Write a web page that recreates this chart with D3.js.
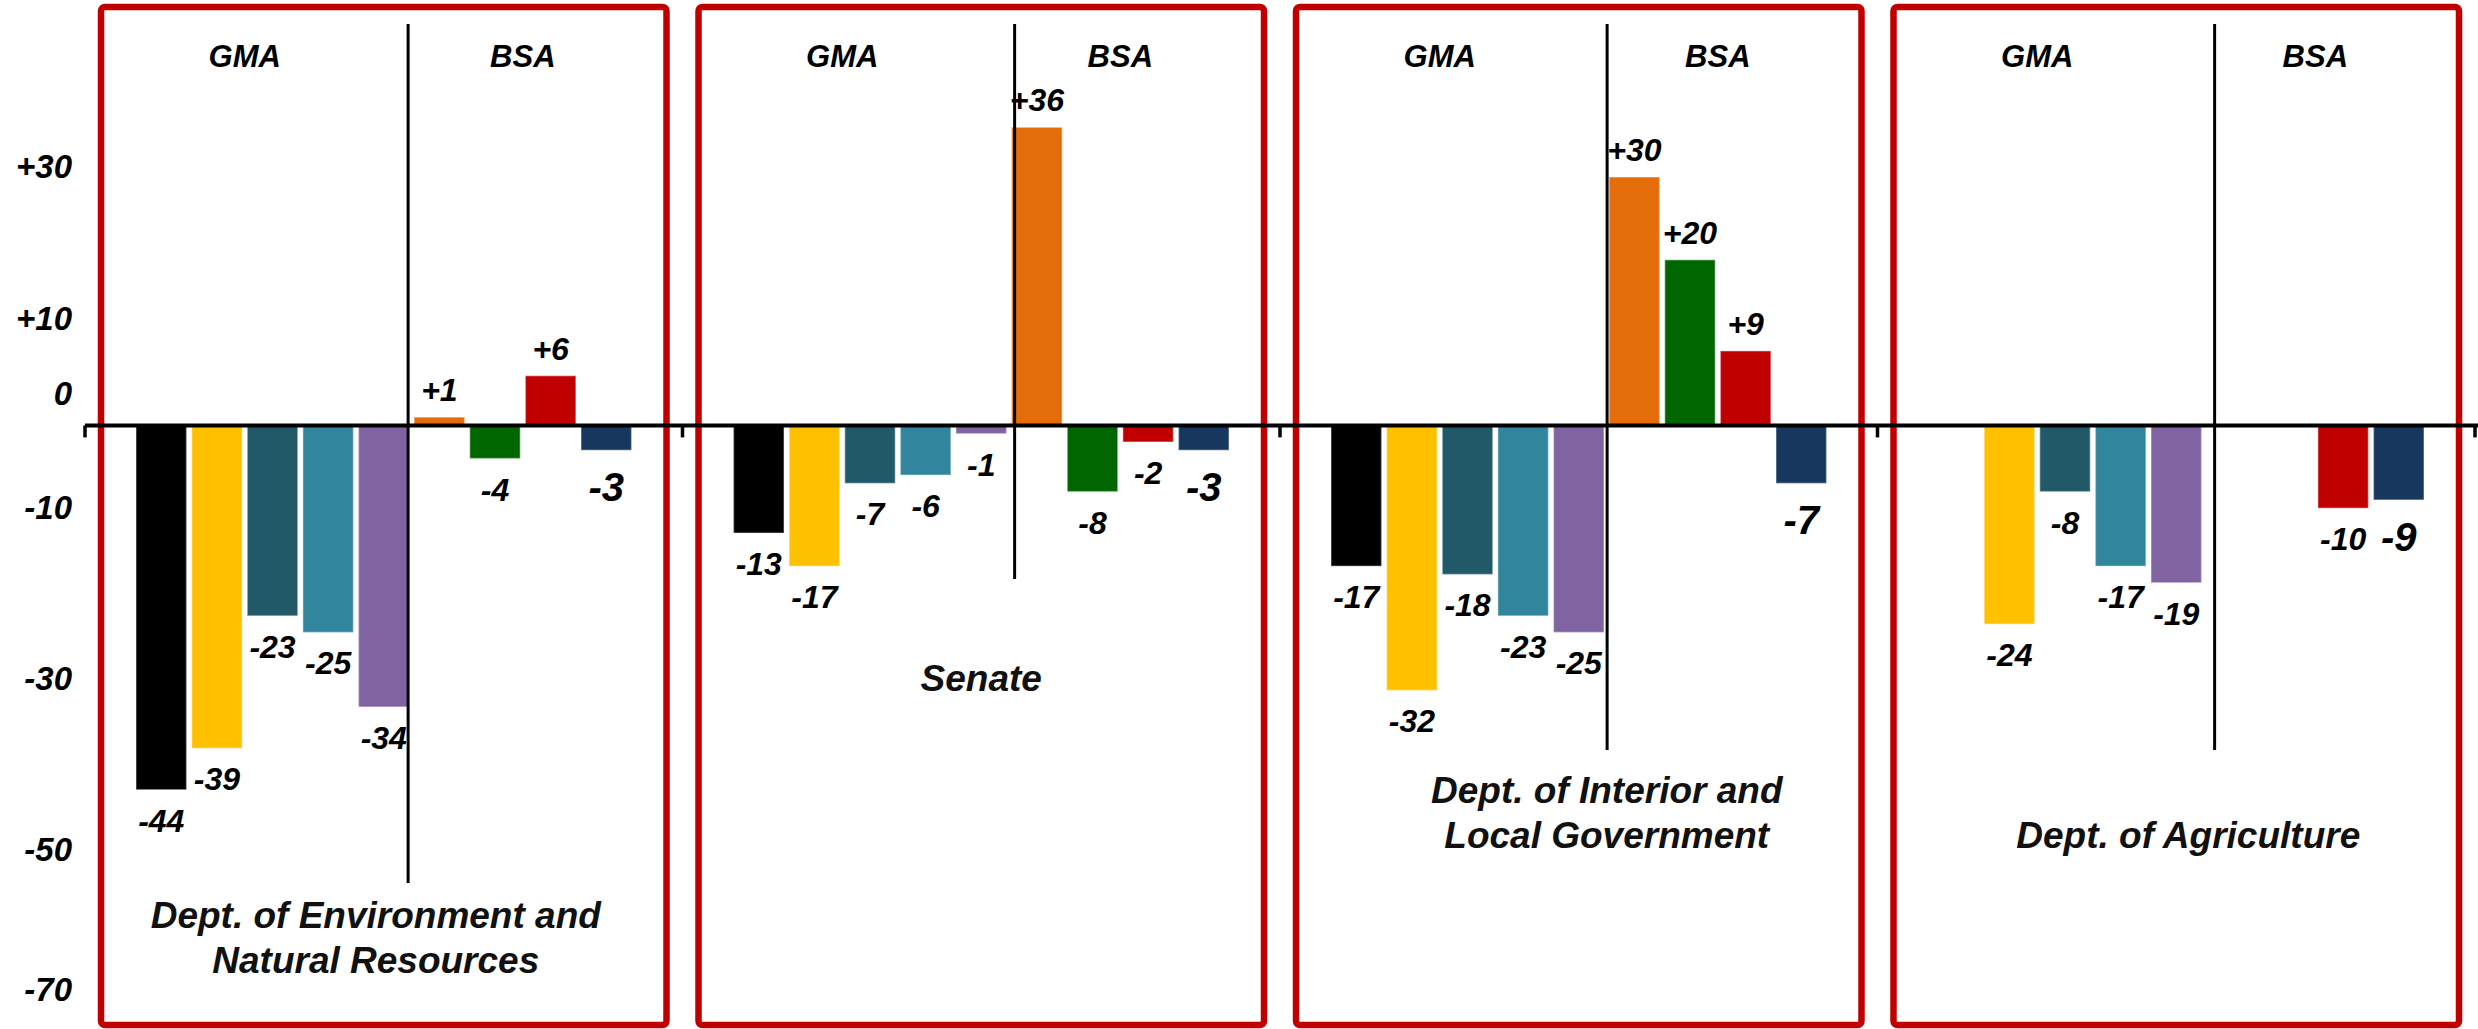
<!DOCTYPE html>
<html>
<head>
<meta charset="utf-8">
<script src="https://cdn.jsdelivr.net/npm/d3@7"></script>
<style>
	body { margin: 0; background: #fff; }
	svg { display: block; }
	text { font-family: 'Liberation Sans', Arial, sans-serif; font-weight: bold; font-style: italic; }
</style>
</head>
<body>
<script>
// Data
const panels = ['DENR', 'Senate', 'DILG', 'Agriculture']
const panelTitles = [
	['Dept. of Environment and', 'Natural Resources'],
	['Senate'],
	['Dept. of Interior and', 'Local Government'],
	['Dept. of Agriculture']
]
const sides = ['GMA', 'BSA']
const series = ['gma1', 'gma2', 'gma3', 'gma4', 'gma5', 'bsa1', 'bsa2', 'bsa3', 'bsa4']
const denr = [-44, -39, -23, -25, -34, 1, -4, 6, -3]
const senate = [-13, -17, -7, -6, -1, 36, -8, -2, -3]
const dilg = [-17, -32, -18, -23, -25, 30, 20, 9, -7]
const agri = [null, -24, -8, -17, -19, null, null, -10, -9]
const values = [denr, senate, dilg, agri]
const yTicks = [30, 10, 0, -10, -30, -50, -70]

// Styles
const colors = ['#000000', '#FFC000', '#215968', '#31859C', '#8064A2', '#E46C0A', '#006600', '#C00000', '#17375E']
const red = '#C00000'

// Layout
const width = 2478
const height = 1029
const titleBaseline = [973, 691, 848, 848] // baseline of the last title line
const titleShift = [-8, 0, 28, 12]
const dividerEnd = [883, 579, 750, 750]
const dividerShift = [-6, 3, -2, 8]
const tickShift = new Map([[30, -10], [10, -24], [0, -31], [-10, 0], [-30, 5], [-50, 11], [-70, -15]])

const svg = d3
	.select('body')
	.append('svg')
	.attr('width', width)
	.attr('height', height)

// Scales
const x = d3.scaleBand().domain(panels).range([85, 2475])
const xs = d3.scaleBand().domain(series).range([0, x.bandwidth()]).paddingInner(0.092).paddingOuter(0.917)
const y = d3.scaleLinear().domain([-70, 30]).range([1005, 177])

const fmt = v => (v > 0 ? '+' + v : String(v))

// one group per panel
const panel = svg
	.selectAll('g.panel')
	.data(panels)
	.join('g')
	.attr('class', 'panel')
	.attr('transform', d => `translate(${x(d)},0)`)

const bars = (d, i) =>
	series.map((s, j) => ({ s, j, v: values[i][j] })).filter(b => b.v !== null)

panel
	.selectAll('rect.bar')
	.data(bars)
	.join('rect')
	.attr('class', 'bar')
	.attr('x', d => xs(d.s))
	.attr('width', xs.bandwidth())
	.attr('y', d => y(Math.max(0, d.v)))
	.attr('height', d => Math.abs(y(d.v) - y(0)))
	.attr('fill', d => colors[d.j])
	.attr('stroke', '#fff')
	.attr('stroke-opacity', 0.35)
	.attr('stroke-width', 1.5)

// value labels, the last series gets a bigger one
panel
	.selectAll('text.value')
	.data(bars)
	.join('text')
	.attr('class', 'value')
	.attr('text-anchor', 'middle')
	.attr('x', d => xs(d.s) + xs.bandwidth() / 2)
	.attr('y', d => {
		if (d.v > 0) return y(d.v) - 16
		return y(d.v) + (d.j === series.length - 1 ? 51 : 42)
	})
	.attr('font-size', d => (d.j === series.length - 1 ? 40 : 32))
	.attr('fill', '#000')
	.text(d => fmt(d.v))

// GMA | BSA divider
panel
	.append('line')
	.attr('x1', (d, i) => xs(series[5]) + dividerShift[i])
	.attr('x2', (d, i) => xs(series[5]) + dividerShift[i])
	.attr('y1', 24)
	.attr('y2', (d, i) => dividerEnd[i])
	.attr('stroke', '#000')
	.attr('stroke-width', 3)

// GMA / BSA headers
const gmaX = (xs(series[1]) + xs(series[2])) / 2 + xs.bandwidth() / 2
const bsaX = (xs(series[5]) + xs(series[8])) / 2 + xs.bandwidth() / 2
panel
	.selectAll('text.side')
	.data(sides)
	.join('text')
	.attr('class', 'side')
	.attr('text-anchor', 'middle')
	.attr('x', d => (d === 'GMA' ? gmaX : bsaX))
	.attr('y', 67)
	.attr('font-size', 31)
	.text(d => d)

// panel titles
panel
	.append('text')
	.attr('text-anchor', 'middle')
	.attr('font-size', 37)
	.attr('fill', '#111')
	.each(function (d, i) {
		const lines = panelTitles[i]
		d3.select(this)
			.selectAll('tspan')
			.data(lines)
			.join('tspan')
			.attr('x', x.bandwidth() / 2 + titleShift[i])
			.attr('y', (l, k) => titleBaseline[i] - (lines.length - 1 - k) * 45)
			.text(l => l)
	})

// zero line with ticks at the panel boundaries
svg.append('line')
	.attr('x1', x.range()[0])
	.attr('x2', width)
	.attr('y1', y(0))
	.attr('y2', y(0))
	.attr('stroke', '#000')
	.attr('stroke-width', 4)

svg.selectAll('line.tick')
	.data(panels.map(p => x(p)).concat([x.range()[1]]))
	.join('line')
	.attr('class', 'tick')
	.attr('x1', d => d)
	.attr('x2', d => d)
	.attr('y1', y(0))
	.attr('y2', y(0) + 12)
	.attr('stroke', '#000')
	.attr('stroke-width', 3.5)

// y axis labels
const yaxis = d3.axisLeft(y).tickValues(yTicks).tickSize(0).tickPadding(0).tickFormat(fmt)
const g_yaxis = svg.append('g').attr('transform', 'translate(72,0)').call(yaxis)
g_yaxis.select('.domain').remove()
g_yaxis
	.selectAll('text')
	.attr('font-size', 33)
	.attr('fill', '#000')
	.attr('y', d => tickShift.get(d))

// red frames on top
panel
	.append('rect')
	.attr('x', 16)
	.attr('y', 7)
	.attr('width', x.bandwidth() - 32)
	.attr('height', 1018)
	.attr('rx', 4)
	.attr('fill', 'none')
	.attr('stroke', red)
	.attr('stroke-width', 6.5)
</script>
</body>
</html>
